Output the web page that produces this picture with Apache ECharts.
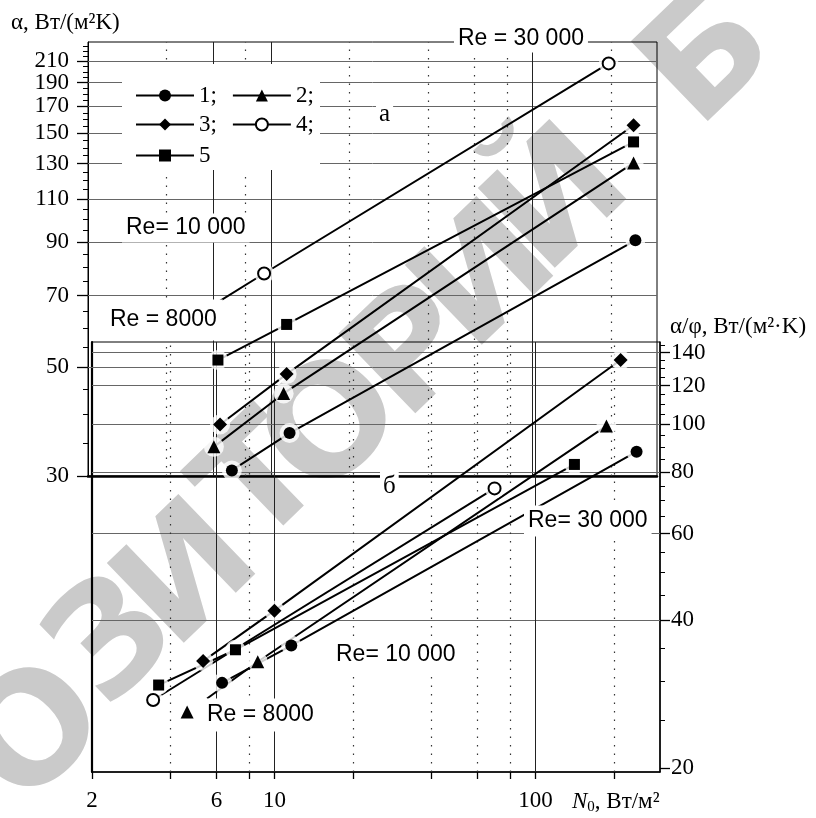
<!DOCTYPE html>
<html><head><meta charset="utf-8">
<script src="https://cdn.jsdelivr.net/npm/echarts@6/dist/echarts.min.js"></script>
<style>html,body{margin:0;padding:0;background:#fff}#c{width:816px;height:818px}</style>
</head><body><div id="c"></div>
<script>
// ---------- data ----------
const names = ['1', '2', '3', '4', '5'];
// upper panel (а): alpha, W/(m2 K) vs N0
const upper1 = [[7.1, 30.8], [11.8, 36.7], [248, 90.7]];
const upper2 = [[6.06, 34.4], [11.2, 44.2], [244, 130.4]];
const upper3 = [[6.4, 38.2], [11.5, 48.4], [244, 155.6]];
const upper4 = [[9.43, 77.6], [196, 208]];
const upper5 = [[6.28, 51.7], [11.5, 61.1], [244, 143.9]];
const upper4LineStart = [6.15, 67.4];
// lower panel (б): alpha/phi vs N0
const lower1 = [[6.3, 29.8], [11.6, 35.5], [244, 88.0]];
const lower2 = [[4.63, 26.0], [8.63, 32.9], [187, 99.3]];
const lower3 = [[5.33, 33.0], [10.0, 41.8], [212, 135.2]];
const lower4 = [[3.43, 27.5], [69.7, 74.1]];
const lower5 = [[3.6, 29.5], [7.09, 34.8], [141, 82.9]];
const lower2LineStart = [5.52, 27.7];

// ticks
const xTicks = [2, 4, 6, 8, 10, 20, 40, 60, 80, 100, 200];
const xLabels = [2, 6, 10, 100];
const xSolidGrid = [6, 10, 100];
const xDottedGrid = [4, 8, 20, 40, 60, 80, 200];
const upperTicks = [30, 50, 70, 90, 110, 130, 150, 170, 190, 210];
const upperLabelsA = [30, 70, 110, 150, 190];
const upperLabelsB = [50, 90, 130, 170, 210];
const upperMinorTicks = [35, 40, 45, 55, 60, 65, 75, 80, 85, 95, 100, 105, 115, 120, 125, 135, 140, 145, 155, 160, 165, 175, 180, 185, 195, 200, 205, 215, 220, 225];
const lowerTicks = [20, 40, 60, 80, 100, 120, 140];
const lowerMinorTicks = [25, 30, 35, 45, 50, 55, 65, 70, 75, 85, 90, 95, 105, 110, 115, 125, 130, 135, 145];

// watermark letters (repository stamp)
const stampLetters = ['О', 'З', 'И', 'Т', 'О', 'Р', 'И', 'Й', 'Б'];

// ---------- styling ----------
const SERIF = '"Liberation Serif", "Times New Roman", serif';
const SANS = '"Liberation Sans", Arial, sans-serif';
const symbols = ['circle', 'triangle', 'diamond', 'emptyCircle', 'rect'];
const symbolSizes = [12, 13, 14, 12, 11];

const upperSets = [upper1, upper2, upper3, upper4, upper5];
const lowerSets = [lower1, lower2, lower3, lower4, lower5];
const upperLines = [upper1, upper2, upper3, [upper4LineStart].concat(upper4), upper5];
const lowerLines = [lower1, [lower2LineStart].concat(lower2.slice(1)), lower3, lower4, lower5];

const series = [];
function addMarkers(sets, xi, yi) {
  sets.forEach((pts, k) => series.push({
    type: 'line', name: names[k], xAxisIndex: xi, yAxisIndex: yi, data: pts,
    symbol: symbols[k], symbolSize: symbolSizes[k], showSymbol: true,
    lineStyle: { opacity: 0 },
    itemStyle: { color: '#000', borderColor: '#000', borderWidth: k === 3 ? 1 : 0 },
    z: 4, silent: true, animation: false
  }));
}
function addLines(lines, xi, yi) {
  lines.forEach((pts, k) => series.push({
    type: 'line', name: names[k], xAxisIndex: xi, yAxisIndex: yi, data: pts,
    symbol: 'none', showSymbol: false,
    lineStyle: { color: '#000', width: 2 },
    z: 2, silent: true, animation: false
  }));
}
function gridMarkLines(hVals) {
  const d = [];
  hVals.forEach(v => d.push({ yAxis: v, lineStyle: { color: '#666', width: 1, type: 'solid' } }));
  xSolidGrid.forEach(v => d.push({ xAxis: v, lineStyle: { color: '#222', width: 1, type: 'solid' } }));
  xDottedGrid.forEach(v => d.push({ xAxis: v, lineStyle: { color: '#333', width: 1.2, type: [1.5, 7] } }));
  return { silent: true, symbol: ['none', 'none'], label: { show: false }, animation: false, z: 1, data: d };
}
function addHalo(sets, xi, yi, hVals) {
  series.push({
    type: 'scatter', name: 'halo' + xi, xAxisIndex: xi, yAxisIndex: yi,
    data: [].concat(...sets), symbol: 'circle', symbolSize: 20,
    itemStyle: { color: '#fff' }, z: 3, silent: true, animation: false,
    markLine: gridMarkLines(hVals)
  });
}
addMarkers(upperSets, 0, 0);
addMarkers(lowerSets, 1, 2);
addLines(upperLines, 0, 0);
addLines(lowerLines, 1, 2);
addHalo(upperSets, 0, 0, upperTicks.slice(1));
addHalo(lowerSets, 1, 2, lowerTicks.slice(1));

const labelFont = { color: '#000', fontFamily: SERIF, fontSize: 23, lineHeight: 16,
  showMinLabel: true, showMaxLabel: true, hideOverlap: false };
const U_MIN = 30, U_MAX = 230, L_MIN = 19.63, L_MAX = 147.1, X_MIN = 2, X_MAX = 300;

const legendBase = {
  left: 135, itemWidth: 58, itemHeight: 15, itemGap: 15, padding: 0, z: 7,
  selectedMode: false,
  textStyle: { color: '#000', fontFamily: SERIF, fontSize: 23 },
  lineStyle: { color: '#000', width: 2, opacity: 1, type: 'solid' },
  formatter: n => (n === '5' ? n : n + ';')
};

const texts = [
  { t: 'Re = 30 000', x: 454, y: 39, pad: [2, 4], f: SANS, fs: 23 },
  { t: 'Re= 10 000', x: 122, y: 228, pad: [3, 4], f: SANS, fs: 23 },
  { t: 'Re = 8000', x: 104, y: 320, pad: [9, 6], f: SANS, fs: 23 },
  { t: 'Re= 30 000', x: 524, y: 521, pad: [4, 4], f: SANS, fs: 23 },
  { t: 'Re= 10 000', x: 332, y: 655, pad: [6, 4], f: SANS, fs: 23 },
  { t: 'Re = 8000', x: 203, y: 715, pad: [5, 4], f: SANS, fs: 23 },
  { t: 'а', x: 376, y: 114, pad: [2, 3], f: SERIF, fs: 25 },
  { t: 'б', x: 380, y: 486, pad: [2, 3], f: SERIF, fs: 25 },
  { t: 'α, Вт/(м²K)', x: 11, y: 23, pad: 0, f: SERIF, fs: 23 },
  { t: 'α/φ, Вт/(м²·K)', x: 670, y: 327, pad: 0, f: SERIF, fs: 23 }
];

// centres of the stamp letters (decoration only)
const stampPos = [[40, 738], [117, 645], [192, 580], [266, 487], [337, 430], [418, 356], [490, 282], [563, 205], [712, 62]];
const stamp = stampLetters.map((ch, i) => ({
  type: 'text', x: stampPos[i][0], y: stampPos[i][1], rotation: Math.PI * 44 / 180, z: -1, silent: true,
  style: { text: ch, font: 'bold 152px "DejaVu Sans", sans-serif', fill: '#cacaca',
    align: 'center', verticalAlign: 'middle', textAlign: 'center', textVerticalAlign: 'middle' }
}));

const graphic = stamp.concat([
  { type: 'rect', shape: { x: 122, y: 64, width: 198, height: 106 }, style: { fill: '#fff' }, z: 6, silent: true }
]).concat(texts.map(o => ({
  type: 'text', x: o.x, y: o.y, z: 10, silent: true,
  style: {
    text: o.t, font: o.fs + 'px ' + o.f, fill: '#000',
    backgroundColor: o.pad ? '#fff' : null, padding: o.pad,
    align: 'left', verticalAlign: 'middle', textAlign: 'left', textVerticalAlign: 'middle'
  }
}))).concat([{
  type: 'text', x: 572, y: 802, z: 10, silent: true,
  style: {
    text: '{i|N}{s|0}{t|, Вт/м²}', align: 'left', verticalAlign: 'middle', textAlign: 'left', textVerticalAlign: 'middle',
    rich: {
      i: { fontFamily: SERIF, fontSize: 23, fontStyle: 'italic', fill: '#000', color: '#000', lineHeight: 26, verticalAlign: 'middle' },
      s: { fontFamily: SERIF, fontSize: 15, fill: '#000', color: '#000', lineHeight: 26, verticalAlign: 'bottom' },
      t: { fontFamily: SERIF, fontSize: 23, fill: '#000', color: '#000', lineHeight: 26, verticalAlign: 'middle' }
    }
  }
}]);

const option = {
  animation: false,
  backgroundColor: '#fff',
  grid: [
    { left: 88, right: 159, top: 42, bottom: 342, show: true, borderColor: '#000', borderWidth: 1, backgroundColor: 'transparent' },
    { left: 92, right: 156, top: 342, bottom: 46, show: true, borderColor: '#000', borderWidth: 1, backgroundColor: 'transparent' }
  ],
  xAxis: [
    { type: 'log', gridIndex: 0, min: X_MIN, max: X_MAX, position: 'bottom',
      axisLine: { show: true, lineStyle: { color: '#000', width: 2.5 } },
      axisTick: { show: false }, axisLabel: { show: false }, splitLine: { show: false } },
    { type: 'log', gridIndex: 1, min: X_MIN, max: X_MAX, position: 'bottom',
      axisLine: { show: true, lineStyle: { color: '#000', width: 1.5 } },
      axisTick: { show: true, customValues: xTicks, length: 7, lineStyle: { color: '#000', width: 1.3 } },
      axisLabel: { show: true, customValues: xLabels, margin: 21, ...labelFont },
      splitLine: { show: false } }
  ],
  yAxis: [
    { type: 'log', gridIndex: 0, min: U_MIN, max: U_MAX, position: 'left',
      axisLine: { show: true, lineStyle: { color: '#000', width: 1 } },
      axisTick: { show: true, customValues: upperTicks, length: 11, lineStyle: { color: '#000', width: 1.3 } },
      axisLabel: { show: true, customValues: upperLabelsA, margin: 19, ...labelFont },
      splitLine: { show: false } },
    { type: 'log', gridIndex: 0, min: U_MIN, max: U_MAX, position: 'left',
      axisLine: { show: false },
      axisTick: { show: true, customValues: upperMinorTicks, length: 5, lineStyle: { color: '#000', width: 1 } },
      axisLabel: { show: true, customValues: upperLabelsB, margin: 19, ...labelFont },
      splitLine: { show: false } },
    { type: 'log', gridIndex: 1, min: L_MIN, max: L_MAX, position: 'right',
      axisLine: { show: true, lineStyle: { color: '#000', width: 1.5 } },
      axisTick: { show: true, customValues: lowerTicks, length: 10, lineStyle: { color: '#000', width: 1.3 } },
      axisLabel: { show: true, customValues: lowerTicks, margin: 11, ...labelFont },
      splitLine: { show: false } },
    { type: 'log', gridIndex: 1, min: L_MIN, max: L_MAX, position: 'right',
      axisLine: { show: false },
      axisTick: { show: true, customValues: lowerMinorTicks, length: 5, lineStyle: { color: '#000', width: 1 } },
      axisLabel: { show: false }, splitLine: { show: false } },
    { type: 'log', gridIndex: 1, min: L_MIN, max: L_MAX, position: 'left',
      axisLine: { show: true, lineStyle: { color: '#000', width: 2.2 } },
      axisTick: { show: false }, axisLabel: { show: false }, splitLine: { show: false } }
  ],
  legend: [
    Object.assign({}, legendBase, { data: ['1', '2'], top: 84 }),
    Object.assign({}, legendBase, { data: ['3', '4'], top: 113 }),
    Object.assign({}, legendBase, { data: ['5'], top: 144 })
  ],
  graphic: graphic,
  series: series
};

const chart = echarts.init(document.getElementById('c'), null, { renderer: 'canvas' });
chart.setOption(option);
</script>
</body></html>
